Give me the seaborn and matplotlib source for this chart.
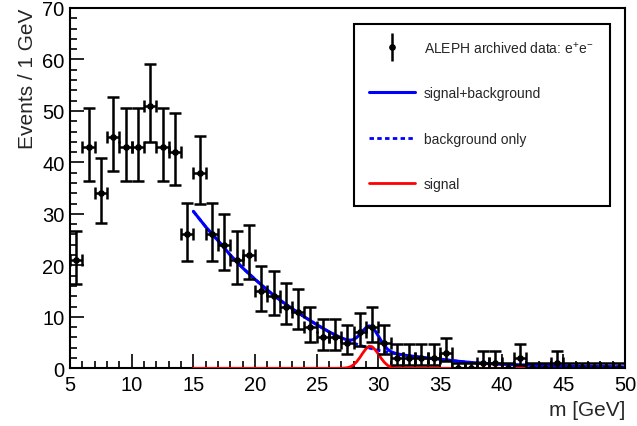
import matplotlib
matplotlib.use("Agg")
import matplotlib.pyplot as plt
from matplotlib.ticker import MultipleLocator
from matplotlib.legend_handler import HandlerErrorbar
import numpy as np
import pandas as pd
import seaborn as sns

# histogram: 1 GeV bins from 5 to 50
bin_lo = np.arange(5, 50)
counts = [21, 43, 34, 45, 43, 43, 51, 43, 42, 26,
          38, 26, 24, 21, 22, 15, 14, 12, 11, 8,
          6, 6, 5, 7, 8, 5, 2, 2, 2, 2,
          3, 0, 0, 1, 1, 0, 2, 0, 0, 1,
          0, 0, 0, 0, 0]

# fit curves
fit_m = [15, 16, 17, 18, 19, 20, 21, 22, 23, 24, 25, 26, 26.5,
         27, 27.25, 27.5, 27.75, 28, 28.25, 28.5, 28.75, 29, 29.25, 29.5, 29.75,
         30, 30.25, 30.5, 30.75, 31, 31.25, 31.5, 32, 33, 34, 35, 36, 37, 38,
         39, 40, 41, 42, 43, 44, 45, 46, 47, 48, 49, 50]
bkg = [30.5, 27.5, 24.8, 22.0, 19.5, 17.3, 15.2, 13.3, 11.6, 10.0, 8.5, 7.1, 6.5,
       5.9, 5.65, 5.4, 5.15, 4.9, 4.7, 4.5, 4.3, 4.1, 3.95, 3.8, 3.65,
       3.5, 3.38, 3.25, 3.12, 3.0, 2.9, 2.8, 2.6, 2.3, 2.0, 1.8, 1.5, 1.25, 1.05,
       0.9, 0.8, 0.7, 0.62, 0.55, 0.5, 0.45, 0.4, 0.37, 0.34, 0.31, 0.28]
sig = [0, 0, 0, 0, 0, 0, 0, 0, 0, 0, 0, 0, 0,
       0.02, 0.05, 0.13, 0.32, 0.7, 1.3, 2.1, 3.0, 3.8, 4.3, 4.2, 3.6,
       2.8, 1.9, 1.15, 0.6, 0.28, 0.12, 0.04, 0, 0, 0, 0, 0, 0, 0,
       0, 0, 0, 0, 0, 0, 0, 0, 0, 0, 0, 0]
total = [30.5, 27.5, 24.8, 22.0, 19.5, 17.3, 15.2, 13.3, 11.6, 10.0, 8.5, 7.1, 6.5,
         5.92, 5.7, 5.53, 5.47, 5.6, 6.0, 6.6, 7.3, 7.9, 8.25, 8.0, 7.25,
         6.3, 5.28, 4.4, 3.72, 3.28, 3.02, 2.84, 2.6, 2.3, 2.0, 1.8, 1.5, 1.25, 1.05,
         0.9, 0.8, 0.7, 0.62, 0.55, 0.5, 0.45, 0.4, 0.37, 0.34, 0.31, 0.28]

sns.set_theme(style="ticks")
plt.rcParams["font.family"] = ["Liberation Sans", "DejaVu Sans"]
plt.rcParams["mathtext.default"] = "regular"

df = pd.DataFrame({"m": bin_lo + 0.5, "n": counts})
n = df["n"].to_numpy(dtype=float)
# Poisson (ROOT style) error bars
err_lo = np.where(n > 0, np.sqrt(np.clip(n - 0.25, 0, None)), 0.0)
err_hi = np.where(n > 0, np.sqrt(n + 0.75) + 1, 1.0)

fig = plt.figure(figsize=(6.37, 4.27), dpi=100)
ax = fig.add_axes([0.110, 0.135, 0.871, 0.844])

sns.lineplot(x=fit_m, y=bkg, ax=ax, color="#0000ff", linewidth=2.0,
             linestyle=(0, (1.6, 1.2)), sort=False)
sns.lineplot(x=fit_m, y=sig, ax=ax, color="#ff0000", linewidth=2.0, sort=False,
             zorder=3)
sns.lineplot(x=fit_m, y=total, ax=ax, color="#0000ff", linewidth=2.2, sort=False,
             zorder=3.5)
bkg_line, sig_line, tot_line = ax.get_lines()[:3]

ax.errorbar(df["m"], df["n"], xerr=0.5, yerr=[err_lo, err_hi], fmt="o",
            color="black", ms=3.8, elinewidth=1.8, capsize=4, capthick=1.8,
            zorder=5)
proxy = ax.errorbar([-10], [-10], yerr=[1], fmt="o", color="black", ms=3.8,
                    elinewidth=1.8, capsize=0)

ax.set_xlim(5, 50)
ax.set_ylim(0, 70)
ax.xaxis.set_major_locator(MultipleLocator(5))
ax.xaxis.set_minor_locator(MultipleLocator(1))
ax.yaxis.set_major_locator(MultipleLocator(10))
ax.yaxis.set_minor_locator(MultipleLocator(2))
ax.tick_params(which="both", direction="in", top=False, right=False,
               width=1.2, colors="black", labelsize=14.5)
ax.tick_params(which="major", length=10)
ax.tick_params(which="minor", length=5)
ax.tick_params(axis="x", pad=5)
ax.tick_params(axis="y", pad=4)
for sp in ax.spines.values():
    sp.set_visible(True)
    sp.set_linewidth(1.5)
    sp.set_color("black")

ax.set_xlabel("m [GeV]", loc="right", fontsize=15)
ax.set_ylabel("Events / 1 GeV", loc="top", fontsize=15)

leg = ax.legend([proxy, tot_line, bkg_line, sig_line],
                [r"ALEPH archived data: $\mathregular{e^{+}e^{-}}$",
                 "signal+background", "background only", "signal"],
                handler_map={proxy: HandlerErrorbar(yerr_size=1.0)},
                loc="upper left", bbox_to_anchor=(0.512, 0.456, 0.461, 0.5),
                bbox_transform=ax.transAxes, mode="expand",
                fontsize=10, frameon=True, fancybox=False, framealpha=1,
                edgecolor="black", borderpad=1.1, labelspacing=2.25,
                handlelength=3.3, handletextpad=0.6, borderaxespad=0)
leg.get_frame().set_linewidth(1.5)

fig.savefig("out.png", dpi=100)
